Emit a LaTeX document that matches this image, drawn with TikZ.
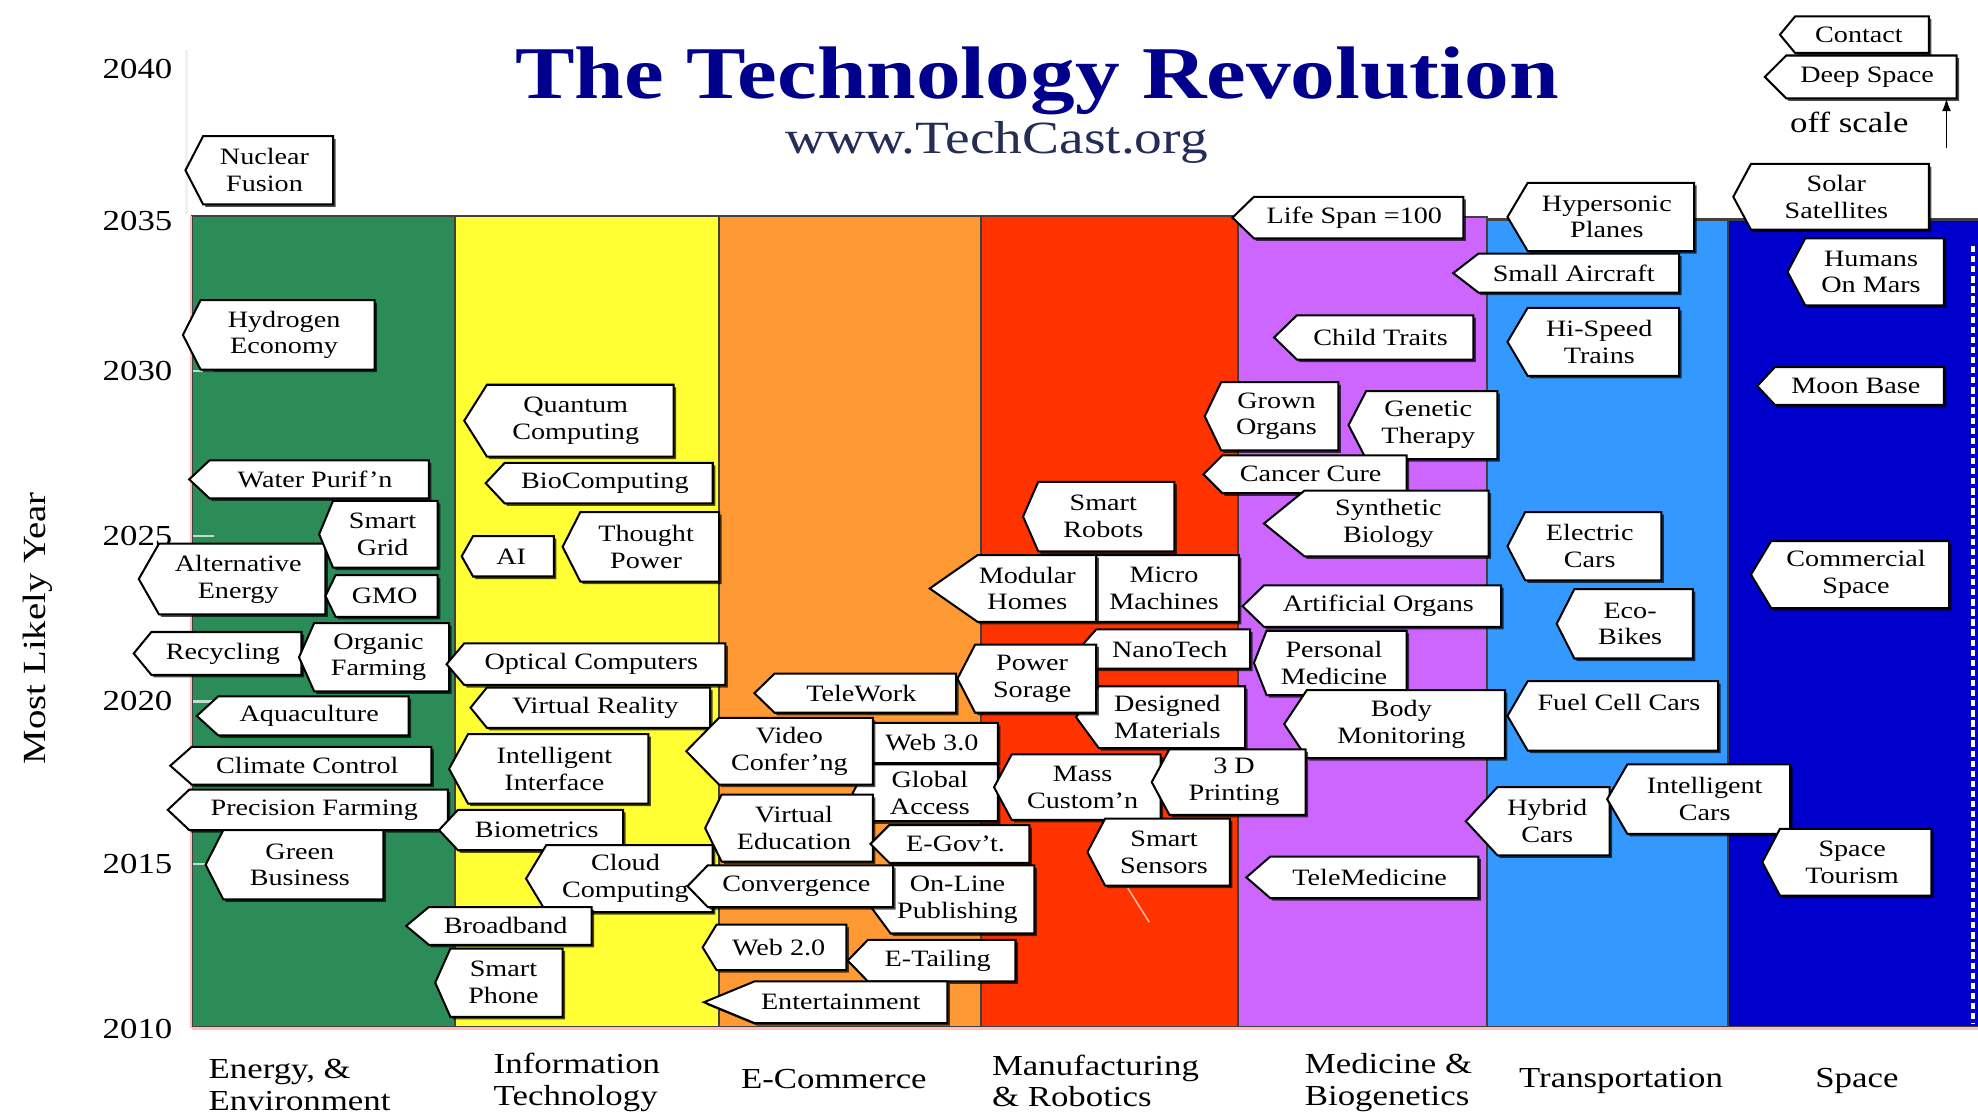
\documentclass[tikz,border=0pt]{standalone}
\usepackage{fontspec}
\setmainfont{Liberation Serif}[FakeStretch=1.2]
\usetikzlibrary{%
    arrows.meta,
    backgrounds,
    calc,
    shadows
}

\definecolor{energygreen}{RGB}{44,140,88}
\definecolor{infoyellow}{RGB}{255,255,51}
\definecolor{ecomorange}{RGB}{255,153,51}
\definecolor{manured}{RGB}{255,51,0}
\definecolor{medpurple}{RGB}{204,102,255}
\definecolor{transblue}{RGB}{51,153,255}
\definecolor{spaceblue}{RGB}{0,0,204}
\definecolor{titleblue}{RGB}{0,0,140}
\definecolor{urlblue}{RGB}{35,45,85}

\tikzset{
    tagbox/.style={fill=white, draw=black, line width=.8pt, line join=miter,
                   drop shadow={shadow xshift=1pt, shadow yshift=-1pt,
                                fill=black, opacity=.7}},
    tagtext/.style={inner sep=0pt, align=center,
                    font=\fontsize{9.3}{10.6}\selectfont},
    yearlabel/.style={font=\fontsize{11.5}{13}\selectfont},
    fieldlabel/.style={inner sep=0pt, align=left,
                       font=\fontsize{11.5}{12.5}\selectfont},
    column/.style={draw=black!75, line width=.8pt}
}

\begin{document}
\begin{tikzpicture}[x=.5pt, y=-.5pt]
    \useasboundingbox (0,0) rectangle (1568,882);
    \fill[white] (0,0) rectangle (1568,882);

    \node[font=\fontsize{29.5}{34}\selectfont\bfseries, text=titleblue, anchor=base]
        (title) at (822,78) {The Technology Revolution};
    \node[font=\fontsize{18.3}{22}\selectfont, text=urlblue, anchor=base]
        (url) at (790,122) {www.TechCast.org};

    \foreach \Col/\Left/\Right/\Top in {%
        energygreen/152/361/171, infoyellow/361/570/171, ecomorange/570/778/171,
        manured/778/981/171, medpurple/981/1179/172, transblue/1179/1370/174,
        spaceblue/1370/1572/174%
        }
        \filldraw[column, fill=\Col] (\Left,\Top) rectangle (\Right,814);
    \draw[red!25, line width=1pt] (151.5,171) -- (151.5,815);
    \draw[red!25, line width=1.2pt] (152,815.5) -- (1568,815.5);
    \draw[white, line width=1.4pt, dash pattern=on 2.5pt off 1.5pt] (1564,195) -- (1564,812);
    \draw[black!6, line width=1pt] (148,40) -- (148,170);
    \foreach \Y in {294,425,556,685}
        \draw[white!70!energygreen, line width=1pt] (153,\Y) -- (170,\Y);

    \foreach \Year/\Y in {2040/55, 2035/175, 2030/294, 2025/425, 2020/556, 2015/685, 2010/816}
        \node[yearlabel] (y\Year) at (109,\Y) {\Year};
    \node[rotate=90, font=\fontsize{12.8}{14}\selectfont] (yaxis) at (30,498) {Most Likely Year};

    \coordinate (streak-a) at (894,704);
    \coordinate (streak-b) at (911,731);
    \draw[white!65!manured, line width=.6pt] (streak-a) -- (streak-b);

    \foreach \Name/\Tip/\Top/\Right/\Bottom/\Depth/\Text in {%
        NuclearFusion/147/108/264/162/14/{Nuclear\\Fusion},
        HydrogenEconomy/145/238/297/293/14/{Hydrogen\\Economy},
        WaterPurif/150/365/340/395/16/{Water Purif'n},
        AltEnergy/110/431/258/487/16/{Alternative\\Energy},
        SmartGrid/253/397/347/450/11/{Smart\\Grid},
        GMO/258/456/347/489/8/{GMO},
        Recycling/106/501/239/535/14/{Recycling},
        OrganicFarming/237/494/356/548/12/{Organic\\Farming},
        Aquaculture/156/552/324/583/17/{Aquaculture},
        ClimateControl/135/592/342/622/17/{Climate Control},
        PrecisionFarming/133/626/355/658/17/{Precision Farming},
        GreenBusiness/163/658/304/713/14/{Green\\Business},
        %
        QuantumComputing/368/305/534/362/18/{Quantum\\Computing},
        BioComputing/385/367/565/399/15/{BioComputing},
        AI/366/425/439/457/9/{AI},
        ThoughtPower/446/406/570/461/14/{Thought\\Power},
        OpticalComputers/354/510/575/543/14/{Optical Computers},
        VirtualReality/373/545/563/577/13/{Virtual Reality},
        IntelligentInterface/356/582/514/637/15/{Intelligent\\Interface},
        Biometrics/348/642/494/674/15/{Biometrics},
        CloudComputing/417/670/565/723/16/{Cloud\\Computing},
        Broadband/322/719/469/749/18/{Broadband},
        SmartPhone/345/752/446/806/12/{Smart\\Phone},
        %
        TeleWork/598/534/758/565/16/{TeleWork},
        Web3/678/573/791/605/14/{Web 3.0},
        GlobalAccess/676/606/791/651/12/{Global\\Access},
        VideoConf/544/569/692/622/26/{Video\\Confer'ng},
        VirtualEducation/559/630/692/683/13/{Virtual\\Education},
        EGov/690/654/816/684/15/{E-Gov't.},
        OnLinePublishing/686/686/820/740/20/{On-Line\\Publishing},
        Convergence/545/686/708/719/16/{Convergence},
        Web2/557/733/671/769/11/{Web 2.0},
        ETailing/672/745/805/778/16/{E-Tailing},
        Entertainment/558/778/751/811/40/{Entertainment},
        %
        SmartRobots/811/382/931/437/12/{Smart\\Robots},
        MicroMachines/855/440/982/493/14/{Micro\\Machines},
        ModularHomes/737/440/869/493/38/{Modular\\Homes},
        NanoTech/855/499/991/530/14/{NanoTech},
        DesignedMaterials/853/544/987/593/18/{Designed\\Materials},
        PowerSorage/759/511/869/565/14/{Power\\Sorage},
        MassCustom/788/598/920/650/14/{Mass\\Custom'n},
        %
        LifeSpan/977/156/1160/189/17/{Life Span =100},
        ChildTraits/1010/250/1168/285/18/{Child Traits},
        GrownOrgans/955/303/1061/357/13/{Grown\\Organs},
        GeneticTherapy/1069/310/1187/364/14/{Genetic\\Therapy},
        CancerCure/954/361/1115/391/15/{Cancer Cure},
        SyntheticBiology/1002/389/1180/441/32/{Synthetic\\Biology},
        ArtificialOrgans/985/464/1190/497/17/{Artificial Organs},
        PersonalMedicine/994/500/1115/551/10/{Personal\\Medicine},
        BodyMonitoring/1018/547/1193/601/18/{Body\\Monitoring},
        TeleMedicine/988/679/1172/712/19/{TeleMedicine},
        ThreeDPrinting/913/594/1035/646/14/{3 D\\Printing},
        SmartSensors/862/649/975/702/14/{Smart\\Sensors},
        %
        HypersonicPlanes/1195/145/1343/199/16/{Hypersonic\\Planes},
        SmallAircraft/1152/201/1331/232/20/{Small Aircraft},
        HiSpeedTrains/1195/244/1331/298/16/{Hi-Speed\\Trains},
        ElectricCars/1195/406/1317/460/14/{Electric\\Cars},
        EcoBikes/1234/467/1342/522/14/{Eco-\\Bikes},
        FuelCellCars/1195/540/1362/595/16/{Fuel Cell Cars\\~},
        HybridCars/1162/624/1276/678/25/{Hybrid\\Cars},
        IntelligentCars/1274/606/1419/661/16/{Intelligent\\Cars},
        %
        Contact/1411/13/1529/42/12/{Contact},
        DeepSpace/1399/44/1551/78/17/{Deep Space},
        SolarSatellites/1374/130/1529/182/14/{Solar\\Satellites},
        HumansOnMars/1417/189/1541/242/14/{Humans\\On Mars},
        MoonBase/1393/291/1541/321/14/{Moon Base},
        CommercialSpace/1388/429/1545/482/16/{Commercial\\Space},
        SpaceTourism/1397/657/1531/710/14/{Space\\Tourism}%
        }{
        \filldraw[tagbox] ({\Tip+\Depth},\Top) -- (\Right,\Top) -- (\Right,\Bottom)
            -- ({\Tip+\Depth},\Bottom) -- (\Tip,{(\Top+\Bottom)/2}) -- cycle;
        \node[tagtext] (\Name) at ({(\Tip+.6*\Depth+\Right)/2},{(\Top+\Bottom)/2}) {\Text};
        \coordinate (\Name-s) at ({(\Tip+\Right)/2},\Bottom);
    }

    \node[yearlabel] (offscale) at (1466,97) {off scale};
    \coordinate (offfoot) at (1543,117);
    \draw[-{Latex[length=5pt,width=3.5pt]}, line width=.6pt] (offfoot) -- (offfoot |- DeepSpace-s);

    \node[fieldlabel, anchor=west] (energyfield) at (165,860) {Energy, \&\\Environment};
    \node[fieldlabel, anchor=west] (infofield)   at (391,858) {Information\\Technology};
    \node[fieldlabel]              (ecomfield)   at (661,855) {E-Commerce};
    \node[fieldlabel, anchor=west] (manufield)   at (786,857) {Manufacturing\\\& Robotics};
    \node[fieldlabel, anchor=west] (medfield)    at (1034,858) {Medicine \&\\Biogenetics};
    \node[fieldlabel]              (transfield)  at (1285,857) {Transportation};
    \node[fieldlabel]              (spacefield)  at (1472,857) {Space};
\end{tikzpicture}
\end{document}
